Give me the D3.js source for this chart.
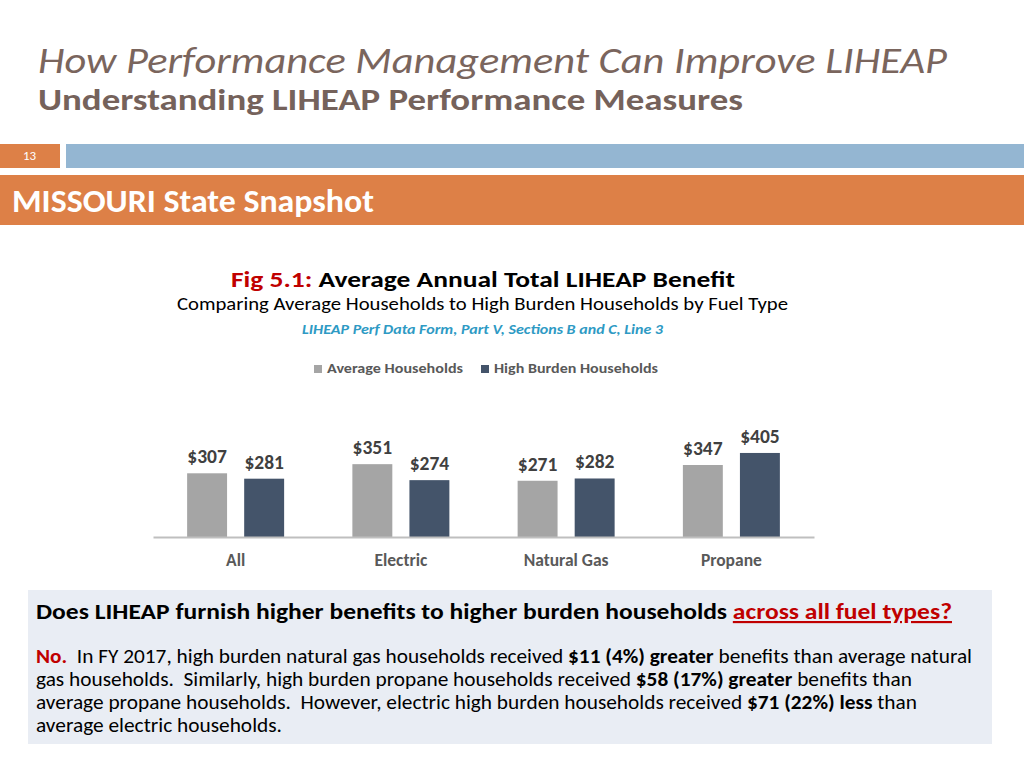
<!DOCTYPE html>
<html><head><meta charset="utf-8">
<script src="https://cdn.jsdelivr.net/npm/d3@7"></script>
<style>
html,body{margin:0;padding:0;background:#fff;}
svg{display:block;font-family:Carlito,Lato,"Open Sans",sans-serif;}
</style></head>
<body>
<svg id="chart" width="1024" height="768"></svg>
<script>
// ---- data ----
const categories = ["All", "Electric", "Natural Gas", "Propane"];
const seriesNames = ["Average Households", "High Burden Households"];
const averageHouseholds = [307, 351, 271, 347];
const highBurdenHouseholds = [281, 274, 282, 405];
const seriesColors = ["#a5a5a5", "#44546a"];

const svg = d3.select("#chart");
const FONT = "Carlito, Lato, 'Open Sans', sans-serif";

function txt(x, y, s, o) {
  const t = svg.append("text").attr("x", x).attr("y", y).text(s)
    .attr("font-size", o.size).attr("fill", o.fill || "#000")
    .attr("font-weight", o.weight || "normal")
    .attr("font-style", o.style || "normal");
  if (o.anchor) t.attr("text-anchor", o.anchor);
  if (o.len) t.attr("textLength", o.len).attr("lengthAdjust", "spacingAndGlyphs");
  return t;
}

// ---- slide header ----
txt(38, 73, "How Performance Management Can Improve LIHEAP", {size: 36, style: "italic", weight: 300, fill: "#7a655d", len: 909});
txt(38, 110, "Understanding LIHEAP Performance Measures", {size: 30, weight: "bold", fill: "#75625b", len: 705});

svg.append("rect").attr("x", 0).attr("y", 144).attr("width", 60).attr("height", 24).attr("fill", "#dd8047");
txt(29.5, 160, "13", {size: 13, fill: "#fff", anchor: "middle"});
svg.append("rect").attr("x", 66).attr("y", 144).attr("width", 958).attr("height", 24).attr("fill", "#94b6d2");
svg.append("rect").attr("x", 0).attr("y", 175).attr("width", 1024).attr("height", 50).attr("fill", "#dd8047");
txt(12, 212, "MISSOURI State Snapshot", {size: 32, weight: "bold", fill: "#fff", len: 362});

// ---- chart titles ----
const t1 = svg.append("text").attr("x", 231).attr("y", 287).attr("font-size", 22.5).attr("font-weight", "bold")
  .attr("textLength", 504).attr("lengthAdjust", "spacingAndGlyphs");
t1.append("tspan").attr("fill", "#c00000").text("Fig 5.1: ");
t1.append("tspan").attr("fill", "#000").text("Average Annual Total LIHEAP Benefit");
txt(177, 310, "Comparing Average Households to High Burden Households by Fuel Type", {size: 18.5, fill: "#000", len: 611});
txt(302, 334, "LIHEAP Perf Data Form, Part V, Sections B and C, Line 3", {size: 14, weight: "bold", style: "italic", fill: "#2e9ac4", len: 361});

// ---- legend ----
const legendX = [314, 481];
const legendLen = [136, 164];
seriesNames.forEach((n, i) => {
  svg.append("rect").attr("x", legendX[i]).attr("y", 365).attr("width", 8).attr("height", 8).attr("fill", seriesColors[i]);
  txt(legendX[i] + 13, 373, n, {size: 13, weight: "bold", fill: "#595959", len: legendLen[i]});
});

// ---- bars ----
const baseY = 537;
const x0 = d3.scaleBand().domain(categories).range([153, 814]).padding(0);
const x1 = d3.scaleBand().domain(seriesNames).range([0, 97]).paddingInner(0.3).paddingOuter(0);
const y = d3.scaleLinear().domain([0, 500]).range([baseY, baseY - 103.75]);

const rows = categories.map((c, i) => ({cat: c, vals: [averageHouseholds[i], highBurdenHouseholds[i]]}));

const g = svg.append("g");
const groups = g.selectAll("g.grp").data(rows).join("g")
  .attr("transform", d => `translate(${x0(d.cat) + x0.bandwidth() / 2 - 48.5},0)`);
groups.selectAll("rect").data(d => d.vals.map((v, i) => ({s: seriesNames[i], v, i}))).join("rect")
  .attr("x", d => x1(d.s)).attr("width", x1.bandwidth())
  .attr("y", d => y(d.v)).attr("height", d => y(0) - y(d.v))
  .attr("fill", d => seriesColors[d.i]);
groups.selectAll("text").data(d => d.vals.map((v, i) => ({s: seriesNames[i], v, i}))).join("text")
  .attr("x", d => x1(d.s) + x1.bandwidth() / 2).attr("y", d => y(d.v) - 10)
  .attr("text-anchor", "middle").attr("font-size", 19.5).attr("font-weight", "bold").attr("fill", "#404040")
  .text(d => "$" + d.v);

// axis
const xAxis = d3.axisBottom(x0).tickSize(0).tickPadding(17);
const ax = svg.append("g").attr("transform", `translate(0,${baseY})`).call(xAxis);
ax.select(".domain").attr("stroke", "#bfbfbf").attr("stroke-width", 2);
ax.selectAll(".tick text").attr("font-family", FONT).attr("font-size", 17.5).attr("font-weight", "bold").attr("fill", "#595959");

// ---- text box ----
svg.append("rect").attr("x", 28).attr("y", 590).attr("width", 964).attr("height", 154).attr("fill", "#e9edf4");
const q = svg.append("text").attr("x", 36).attr("y", 619).attr("font-size", 21.5).attr("font-weight", "bold")
  .attr("textLength", 916).attr("lengthAdjust", "spacingAndGlyphs");
q.append("tspan").attr("fill", "#000").text("Does LIHEAP furnish higher benefits to higher burden households ");
q.append("tspan").attr("fill", "#c00000").attr("text-decoration", "underline").text("across all fuel types?");

const bodyLines = [
  {len: 936, parts: [["No.", "b", "#c00000"], ["  In FY 2017, high burden natural gas households received ", "n"], ["$11 (4%) greater", "b"], [" benefits than average natural", "n"]]},
  {len: 876, parts: [["gas households.  Similarly, high burden propane households received ", "n"], ["$58 (17%) greater", "b"], [" benefits than", "n"]]},
  {len: 881, parts: [["average propane households.  However, electric high burden households received ", "n"], ["$71 (22%) less", "b"], [" than", "n"]]},
  {len: 246, parts: [["average electric households.", "n"]]}
];
const bodyY = [663, 686, 709, 732];
bodyLines.forEach((ln, i) => {
  const t = svg.append("text").attr("x", 36).attr("y", bodyY[i]).attr("font-size", 19.5).attr("fill", "#000")
    .attr("textLength", ln.len).attr("lengthAdjust", "spacingAndGlyphs").style("white-space", "pre");
  ln.parts.forEach(p => {
    t.append("tspan").attr("font-weight", p[1] === "b" ? "bold" : "normal").attr("fill", p[2] || "#000").text(p[0]);
  });
});
</script>
</body></html>
